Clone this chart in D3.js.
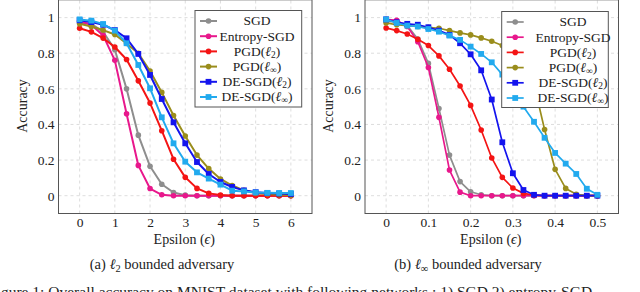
<!DOCTYPE html>
<html><head><meta charset="utf-8">
<script src="https://cdn.jsdelivr.net/npm/d3@7"></script>
<style>
html,body{margin:0;padding:0;background:#fff;overflow:hidden;}
svg{display:block;}
</style></head>
<body>
<svg id="c" width="640" height="292" font-family="'Liberation Serif', 'DejaVu Serif', serif"></svg>
<script>
// ---- data ----
const seriesNames = ["SGD","Entropy-SGD","PGD(ℓ2)","PGD(ℓ∞)","DE-SGD(ℓ2)","DE-SGD(ℓ∞)"];
const epsL = [0,0.333,0.667,1,1.333,1.667,2,2.333,2.667,3,3.333,3.667,4,4.333,4.667,5,5.333,5.667,6];
const sgdL     = [0.97,0.965,0.92,0.82,0.60,0.34,0.165,0.064,0.018,0.003,0,0,0,0,0,0,0,0,0];
const entropyL = [0.98,0.96,0.90,0.76,0.46,0.17,0.04,0.005,0,0,0,0,0,0,0,0,0,0,0];
const pgd2L    = [0.94,0.92,0.885,0.835,0.765,0.645,0.52,0.365,0.205,0.103,0.041,0.013,0.004,0,0,0,0,0,0];
const pgdInfL  = [0.965,0.95,0.93,0.905,0.855,0.80,0.70,0.58,0.45,0.335,0.228,0.152,0.094,0.057,0.03,0.015,0.01,0.005,0.002];
const de2L     = [0.985,0.975,0.96,0.93,0.884,0.796,0.678,0.543,0.412,0.294,0.189,0.122,0.077,0.049,0.03,0.02,0.015,0.012,0.01];
const deInfL   = [0.99,0.983,0.964,0.927,0.856,0.734,0.603,0.44,0.294,0.191,0.131,0.096,0.062,0.028,0.024,0.018,0.016,0.015,0.015];

const epsR = [0,0.025,0.05,0.075,0.1,0.125,0.15,0.175,0.2,0.225,0.25,0.275,0.3,0.325,0.35,0.375,0.4,0.425,0.45,0.475,0.5];
const sgdR     = [0.98,0.975,0.955,0.88,0.743,0.49,0.228,0.079,0.022,0.005,0,0,0,0,0,0,0,0,0,0,0];
const entropyR = [0.99,0.985,0.95,0.865,0.72,0.44,0.144,0.02,0,0,0,0,0,0,0,0,0,0,0,0,0];
const pgd2R    = [0.942,0.927,0.908,0.878,0.843,0.785,0.71,0.616,0.507,0.369,0.212,0.103,0.043,0.013,0.003,0,0,0,0,0,0];
const pgdInfR  = [0.97,0.96,0.955,0.95,0.945,0.94,0.927,0.914,0.903,0.886,0.867,0.843,0.80,0.74,0.625,0.372,0.148,0.041,0.008,0,0];
const de2R     = [0.99,0.974,0.965,0.96,0.946,0.927,0.903,0.856,0.794,0.704,0.54,0.30,0.126,0.032,0.005,0,0,0,0,0,0];
const deInfR   = [0.99,0.97,0.955,0.95,0.936,0.921,0.899,0.875,0.837,0.796,0.749,0.68,0.59,0.50,0.415,0.325,0.24,0.18,0.122,0.039,0.005];

const yTicks = [0,0.2,0.4,0.6,0.8,1];
const xTicksL = [0,1,2,3,4,5,6];
const xTicksR = [0,0.1,0.2,0.3,0.4,0.5];

// ---- styles ----
const FONT = "'Liberation Serif', 'DejaVu Serif', serif";
const colors = ["#8e8e8e","#e8188c","#f41414","#9a8d1c","#1414ee","#22aaee"];
const markers = ["circle","circle","circle","circle","square","square"];

const svg = d3.select("#c");

function subLabel(sel, name){
  const m = name.match(/^(.*)\(ℓ(.)\)$/);
  if(!m){ sel.text(name); return; }
  sel.append("tspan").text(m[1]+"(");
  sel.append("tspan").attr("font-style","italic").text("ℓ");
  sel.append("tspan").attr("font-size","0.7em").attr("dy","2").text(m[2]);
  sel.append("tspan").attr("dy","-2").text(")");
}

function panel(opt){
  const x = d3.scaleLinear().domain(opt.xDom).range(opt.xRange);
  const y = d3.scaleLinear().domain([-0.1,1.1]).range([213.5,-0.2]);
  const g = svg.append("g").attr("font-family",FONT);
  const x0=opt.xRange[0], x1=opt.xRange[1], y0=213.5, y1=-0.2;
  const clipId = "clip"+opt.id;
  svg.append("clipPath").attr("id",clipId).append("rect")
    .attr("x",x0).attr("y",0).attr("width",x1-x0).attr("height",y0);
  // grid
  g.selectAll(".gx").data(opt.xTicks).join("line")
    .attr("x1",d=>x(d)).attr("x2",d=>x(d)).attr("y1",y0).attr("y2",y1)
    .attr("stroke","#d4d4d4").attr("stroke-width",0.8).attr("stroke-dasharray","3,3");
  g.selectAll(".gy").data(yTicks).join("line")
    .attr("y1",d=>y(d)).attr("y2",d=>y(d)).attr("x1",x0).attr("x2",x1)
    .attr("stroke","#d4d4d4").attr("stroke-width",0.8).attr("stroke-dasharray","3,3");
  // axes via d3 axis (labels only)
  const ax = d3.axisBottom(x).tickValues(opt.xTicks).tickSize(0).tickPadding(4)
    .tickFormat(d=>d3.format("~g")(d));
  const ga = g.append("g").attr("transform",`translate(0,${y0})`).call(ax)
    .attr("font-family",FONT).attr("font-size",13.5);
  ga.select(".domain").remove();
  ga.selectAll("text").attr("fill","#222");
  const ay = d3.axisLeft(y).tickValues(yTicks).tickSize(0).tickPadding(4)
    .tickFormat(d=>d3.format("~g")(d));
  const gy = g.append("g").attr("transform",`translate(${x0},0)`).call(ay)
    .attr("font-family",FONT).attr("font-size",13.5);
  gy.select(".domain").remove();
  gy.selectAll("text").attr("fill","#222");

  // lines
  const lg = g.append("g").attr("clip-path",`url(#${clipId})`);
  opt.series.forEach((vals,i)=>{
    const pts = opt.eps.map((e,j)=>[e,vals[j]]);
    lg.append("path").datum(pts)
      .attr("d",d3.line().x(d=>x(d[0])).y(d=>y(d[1])))
      .attr("fill","none").attr("stroke",colors[i]).attr("stroke-width",opt.lw)
      .attr("stroke-linejoin","round");
    if(markers[i]==="circle"){
      lg.selectAll(null).data(pts).join("circle")
        .attr("cx",d=>x(d[0])).attr("cy",d=>y(d[1])).attr("r",2.8).attr("fill",colors[i]);
    } else {
      lg.selectAll(null).data(pts).join("rect")
        .attr("x",d=>x(d[0])-2.9).attr("y",d=>y(d[1])-2.9).attr("width",5.8).attr("height",5.8)
        .attr("fill",colors[i]);
    }
  });
  // frame
  g.append("rect").attr("x",x0).attr("y",y1).attr("width",x1-x0).attr("height",y0-y1)
    .attr("fill","none").attr("stroke","#555").attr("stroke-width",1);

  // legend
  const L = opt.legend;
  const lgd = g.append("g");
  lgd.append("rect").attr("x",L.x).attr("y",L.y).attr("width",L.w).attr("height",L.h)
    .attr("fill","#fff").attr("stroke","#555").attr("stroke-width",1);
  seriesNames.forEach((n,i)=>{
    const ry = L.y + 10.5 + i*15.2;
    lgd.append("line").attr("x1",L.x+5).attr("x2",L.x+22).attr("y1",ry).attr("y2",ry)
      .attr("stroke",colors[i]).attr("stroke-width",opt.lw);
    if(markers[i]==="circle") lgd.append("circle").attr("cx",L.x+13.5).attr("cy",ry).attr("r",2.8).attr("fill",colors[i]);
    else lgd.append("rect").attr("x",L.x+13.5-2.9).attr("y",ry-2.9).attr("width",5.8).attr("height",5.8).attr("fill",colors[i]);
    const t = lgd.append("text").attr("x",L.tx).attr("y",ry+4.3).attr("text-anchor","middle")
      .attr("font-size",13.5).attr("fill","#222");
    subLabel(t,n);
  });

  // axis labels
  const xl = g.append("text").attr("x",(x0+x1)/2-1).attr("y",243.5).attr("text-anchor","middle")
    .attr("font-size",14).attr("fill","#222");
  xl.append("tspan").text("Epsilon (");
  xl.append("tspan").attr("font-style","italic").text("ϵ");
  xl.append("tspan").text(")");
  g.append("text").attr("transform",`translate(${opt.ylabX},${106}) rotate(-90)`)
    .attr("text-anchor","middle").attr("font-size",14).attr("fill","#222").text("Accuracy");
  // sub caption
  const cap = g.append("text").attr("x",opt.capX).attr("y",269).attr("text-anchor","middle")
    .attr("font-size",14.5).attr("fill","#222");
  cap.append("tspan").text(opt.capPre+" ");
  cap.append("tspan").attr("font-style","italic").text("ℓ");
  cap.append("tspan").attr("font-size","0.72em").attr("dy","3").text(opt.capSub);
  cap.append("tspan").attr("dy","-3").text(" bounded adversary");
}

panel({id:"L", xDom:[-0.6,6.6], xRange:[58.5,312], eps:epsL, xTicks:xTicksL,
  series:[sgdL,entropyL,pgd2L,pgdInfL,de2L,deInfL], lw:2,
  legend:{x:195,y:10.5,w:106.7,h:96.5,tx:257}, ylabX:27, capX:162, capPre:"(a)", capSub:"2"});
panel({id:"R", xDom:[-0.05,0.55], xRange:[365,618.5], eps:epsR, xTicks:xTicksR,
  series:[sgdR,entropyR,pgd2R,pgdInfR,de2R,deInfR], lw:1.7,
  legend:{x:501.7,y:11.5,w:106.6,h:96,tx:573}, ylabX:333, capX:468, capPre:"(b)", capSub:"∞"});

svg.append("text").attr("x",-12).attr("y",297).attr("font-size",15.5).attr("font-family",FONT).attr("fill","#222")
  .text("Figure 1: Overall accuracy on MNIST dataset with following networks : 1) SGD 2) entropy-SGD");
</script>
</body></html>
